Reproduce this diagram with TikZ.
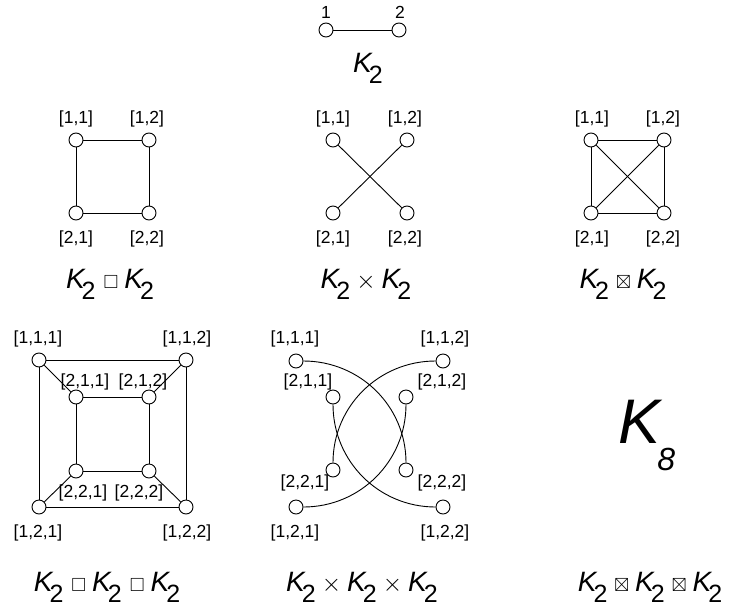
\documentclass[tikz,border=0pt]{standalone}
\usepackage{amssymb}
\usepackage{fontspec}
\setmainfont{Liberation Sans}
\usetikzlibrary{positioning}
\tikzset{
  vertex/.style={circle, draw, fill=white, inner sep=0pt, minimum size=14pt, line width=0.9pt},
  edge/.style={line width=0.9pt},
  vlabel/.style={anchor=base, inner sep=0pt, font=\fontsize{17.5}{17.5}\selectfont},
  caption/.style={anchor=base, inner sep=0pt, font=\fontsize{28}{28}\selectfont}
}
\newcommand{\Kt}{\textit{K}\kern-4pt\raisebox{-11pt}{\fontsize{25}{25}\selectfont 2}}
\newcommand{\opbox}{\hspace{8pt}{\fontsize{19}{19}\selectfont$\square$}\hspace{6pt}}
\newcommand{\optimes}{\hspace{6pt}{\fontsize{25}{25}\selectfont$\times$}\hspace{6pt}}
\newcommand{\opstrong}{\hspace{7pt}{\fontsize{19}{19}\selectfont$\boxtimes$}\hspace{6pt}}

\begin{document}
\begin{tikzpicture}[x=1pt, y=-1pt]
\useasboundingbox (0,0) rectangle (733,608);

\node[vertex] (k1) at (326,30) {};
\node[vertex] (k2) at (399,30) {};
\node[vlabel] (lk1) at (326,18) {1};
\node[vlabel] (lk2) at (400,18) {2};
\draw[edge] (k1) -- (k2);
\node[caption] (capk) at (368,72) {\Kt};

\node[vertex] (p11) at (76,140) {};
\node[vertex] (p12) at (149,140) {};
\node[vertex] (p21) at (76,213) {};
\node[vertex] (p22) at (149,213) {};
\node[vlabel] (lp11) at (76,123) {[1,1]};
\node[vlabel] (lp12) at (147,123) {[1,2]};
\node[vlabel] (lp21) at (76,243) {[2,1]};
\node[vlabel] (lp22) at (147,243) {[2,2]};
\draw[edge] (p11) -- (p12) -- (p22) -- (p21) -- (p11);
\node[caption] (capp) at (110,288) {\Kt\opbox\Kt};

\node[vertex] (t11) at (333,140) {};
\node[vertex] (t12) at (407,140) {};
\node[vertex] (t21) at (333,213) {};
\node[vertex] (t22) at (407,213) {};
\node[vlabel] (lt11) at (333,123) {[1,1]};
\node[vlabel] (lt12) at (405,123) {[1,2]};
\node[vlabel] (lt21) at (333,243) {[2,1]};
\node[vlabel] (lt22) at (405,243) {[2,2]};
\draw[edge] (t11) -- (t22);
\draw[edge] (t12) -- (t21);
\node[caption] (capt) at (366,288) {\Kt\optimes\Kt};

\node[vertex] (s11) at (591,140) {};
\node[vertex] (s12) at (664,140) {};
\node[vertex] (s21) at (591,213) {};
\node[vertex] (s22) at (664,213) {};
\node[vlabel] (ls11) at (592,123) {[1,1]};
\node[vlabel] (ls12) at (663,123) {[1,2]};
\node[vlabel] (ls21) at (592,243) {[2,1]};
\node[vlabel] (ls22) at (663,243) {[2,2]};
\draw[edge] (s11) -- (s12) -- (s22) -- (s21) -- (s11);
\draw[edge] (s11) -- (s22);
\draw[edge] (s12) -- (s21);
\node[caption] (caps) at (623,288) {\Kt\opstrong\Kt};

\node[vertex] (b111) at (39,360) {};
\node[vertex] (b112) at (186,360) {};
\node[vertex] (b121) at (39,507) {};
\node[vertex] (b122) at (186,507) {};
\node[vertex] (b211) at (76,397) {};
\node[vertex] (b212) at (149,397) {};
\node[vertex] (b221) at (76,471) {};
\node[vertex] (b222) at (149,471) {};
\node[vlabel] (lb111) at (38,343) {[1,1,1]};
\node[vlabel] (lb112) at (187,343) {[1,1,2]};
\node[vlabel] (lb211) at (85,386) {[2,1,1]};
\node[vlabel] (lb212) at (143,386) {[2,1,2]};
\node[vlabel] (lb221) at (83,497) {[2,2,1]};
\node[vlabel] (lb222) at (139,497) {[2,2,2]};
\node[vlabel] (lb121) at (38,537) {[1,2,1]};
\node[vlabel] (lb122) at (187,537) {[1,2,2]};
\draw[edge] (b111) -- (b112) -- (b122) -- (b121) -- (b111);
\draw[edge] (b211) -- (b212) -- (b222) -- (b221) -- (b211);
\draw[edge] (b111) -- (b211);
\draw[edge] (b112) -- (b212);
\draw[edge] (b121) -- (b221);
\draw[edge] (b122) -- (b222);
\node[caption] (capb) at (107,591) {\Kt\opbox\Kt\opbox\Kt};

\node[vertex] (x111) at (296,361) {};
\node[vertex] (x112) at (443,361) {};
\node[vertex] (x211) at (333,397) {};
\node[vertex] (x212) at (406,397) {};
\node[vertex] (x221) at (333,470) {};
\node[vertex] (x222) at (406,470) {};
\node[vertex] (x121) at (296,507) {};
\node[vertex] (x122) at (443,507) {};
\node[vlabel] (lx111) at (295,343) {[1,1,1]};
\node[vlabel] (lx112) at (445,343) {[1,1,2]};
\node[vlabel] (lx211) at (308,386) {[2,1,1]};
\node[vlabel] (lx212) at (442,386) {[2,1,2]};
\node[vlabel] (lx221) at (305,487) {[2,2,1]};
\node[vlabel] (lx222) at (442,487) {[2,2,2]};
\node[vlabel] (lx121) at (295,537) {[1,2,1]};
\node[vlabel] (lx122) at (445,537) {[1,2,2]};
\draw[edge] (x111) to[out=0, in=90] (x222);
\draw[edge] (x112) to[out=180, in=90] (x221);
\draw[edge] (x211) to[out=-90, in=180] (x122);
\draw[edge] (x212) to[out=-90, in=0] (x121);
\node[caption] (capx) at (362,591) {\Kt\optimes\Kt\optimes\Kt};

\node[anchor=base, inner sep=0pt, font=\fontsize{63}{63}\selectfont] (k8) at (647,443) {\textit{K}\kern-6pt\raisebox{-27pt}{\fontsize{32}{32}\selectfont\textit{8}}};
\node[caption] (caps3) at (650,591) {\Kt\opstrong\Kt\opstrong\Kt};
\end{tikzpicture}
\end{document}
